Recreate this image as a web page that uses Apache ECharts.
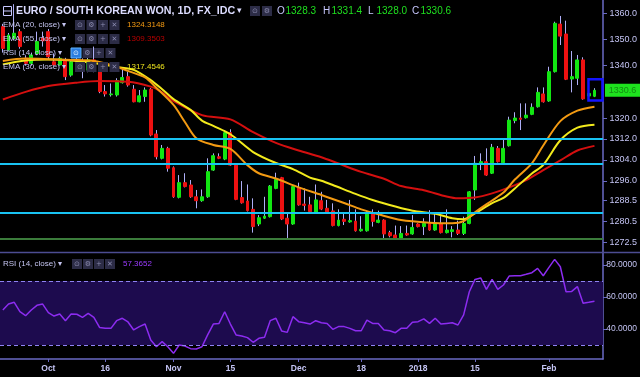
<!DOCTYPE html>
<html>
<head>
<meta charset="utf-8">
<script src="https://cdn.jsdelivr.net/npm/echarts@6/dist/echarts.min.js"></script>
<style>
  html, body { margin: 0; padding: 0; background: #000; }
  #main { width: 640px; height: 377px; }
</style>
</head>
<body>
<div id="main"></div>
<script>
// 日线 EURKRW，从 2017-09-20 开始的交易日
const opens = [1354.9,1346.0,1350.4,1353.0,1342.8,1340.9,1344.7,1350.5,1353.0,1341.5,1340.3,1342.2,1336.4,1342.2,1341.1,1338.3,1342.2,1339.0,1330.1,1328.9,1328.8,1333.5,1335.8,1331.0,1326.2,1328.2,1331.0,1313.9,1304.6,1308.4,1301.0,1289.7,1295.3,1294.4,1289.9,1288.4,1289.9,1300.1,1305.2,1304.3,1314.4,1302.0,1289.6,1288.3,1285.1,1279.5,1281.7,1282.3,1293.1,1297.2,1281.7,1279.5,1293.4,1287.1,1286.8,1283.8,1288.4,1285.5,1284.5,1278.9,1281.3,1280.3,1280.6,1276.9,1276.9,1283.6,1280.1,1281.0,1276.2,1275.3,1273.8,1275.9,1275.7,1279.5,1278.5,1279.7,1277.2,1279.5,1276.2,1276.6,1277.2,1275.9,1279.7,1292.5,1302.4,1303.3,1298.9,1308.4,1302.9,1309.4,1319.0,1320.0,1320.1,1321.4,1324.3,1329.2,1326.5,1337.7,1355.9,1352.1,1334.9,1335.2,1342.2,1328.4,1328.3]
const highs = [1356.0,1352.5,1363.5,1354.0,1344.0,1345.0,1353.0,1353.0,1354.0,1344.7,1343.5,1343.0,1342.5,1343.0,1342.8,1343.0,1347.3,1339.5,1332.6,1333.2,1335.2,1339.0,1337.7,1332.6,1330.7,1331.7,1331.5,1315.4,1309.7,1309.0,1301.5,1298.2,1298.9,1296.3,1292.5,1292.7,1304.6,1306.5,1306.5,1315.4,1315.7,1302.7,1295.9,1294.6,1289.3,1282.9,1289.9,1294.4,1299.1,1297.5,1283.9,1294.1,1295.3,1293.1,1289.9,1294.6,1291.8,1288.7,1287.4,1285.1,1283.6,1288.7,1285.1,1282.5,1284.6,1285.1,1284.6,1281.3,1276.9,1278.9,1278.7,1278.9,1282.9,1279.8,1281.7,1284.8,1283.6,1282.5,1285.1,1278.7,1280.8,1282.3,1292.1,1305.5,1306.5,1308.4,1310.1,1309.3,1311.6,1320.5,1322.2,1325.6,1325.6,1325.6,1331.7,1331.7,1339.6,1356.8,1359.0,1357.2,1345.6,1344.1,1343.2,1331.7,1331.4]
const lows = [1345.0,1345.5,1349.8,1346.5,1340.0,1340.0,1344.0,1347.3,1342.5,1340.0,1340.0,1334.5,1335.8,1340.5,1335.2,1337.5,1337.5,1329.5,1328.2,1328.2,1328.2,1333.2,1332.0,1326.0,1326.0,1326.2,1313.0,1304.2,1304.2,1299.5,1289.5,1289.3,1293.5,1289.5,1285.5,1288.0,1289.5,1299.8,1304.3,1303.9,1301.7,1288.6,1287.3,1284.3,1276.2,1278.7,1281.4,1282.0,1292.8,1281.0,1273.6,1279.2,1286.5,1284.6,1283.6,1283.6,1284.8,1283.6,1278.6,1278.6,1279.1,1280.0,1276.6,1276.6,1276.6,1278.5,1279.8,1273.8,1274.4,1273.5,1273.5,1275.0,1275.4,1278.2,1275.3,1276.9,1276.9,1275.9,1275.9,1274.4,1275.3,1275.3,1279.4,1288.7,1300.1,1297.9,1298.6,1303.0,1302.6,1309.1,1318.0,1315.4,1319.8,1321.1,1324.0,1325.9,1326.2,1337.4,1347.9,1334.5,1329.8,1332.6,1327.0,1328.2,1328.0]
const closes = [1346.6,1351.7,1352.4,1347.3,1340.9,1344.1,1349.2,1349.5,1343.4,1340.3,1342.8,1335.8,1341.5,1341.1,1338.3,1342.2,1338.3,1330.1,1329.2,1329.2,1334.3,1335.5,1332.6,1326.2,1328.5,1330.7,1313.5,1305.2,1308.4,1300.8,1289.9,1295.3,1293.8,1289.9,1288.4,1289.9,1299.5,1305.6,1304.6,1314.4,1302.0,1288.9,1287.6,1284.6,1278.5,1281.9,1282.5,1294.0,1296.6,1281.4,1279.5,1293.8,1286.8,1286.6,1284.2,1288.7,1285.2,1283.9,1278.9,1281.0,1280.5,1280.8,1276.9,1277.5,1283.6,1280.5,1281.0,1275.7,1275.0,1273.8,1275.9,1275.3,1278.2,1278.5,1279.7,1277.2,1279.7,1276.2,1277.2,1277.3,1275.9,1279.7,1291.8,1302.7,1303.3,1298.2,1308.8,1303.3,1308.4,1319.2,1320.0,1319.5,1321.1,1324.1,1329.8,1326.2,1337.7,1356.2,1351.3,1334.8,1335.8,1342.2,1327.3,1329.4,1330.6]

// EMA 线（从图上读取的点：[交易日序号, 值]）
const ema20 = [[0,1341.8],[4,1342.7],[8,1342.5],[12,1342.2],[16,1341.8],[19,1340.3],[22,1338.0],[25,1335.5],[27,1331.5],[30,1325.0],[32,1318.5],[34,1312.3],[37,1309.7],[40,1308.2],[43,1302.0],[45,1298.9],[48,1296.9],[52,1293.5],[56,1290.6],[60,1287.5],[63,1285.1],[66,1283.2],[70,1281.0],[75,1280.0],[79,1279.8],[81,1280.6],[83,1284.0],[86,1288.5],[88,1291.5],[90,1296.5],[93,1302.7],[95,1309.5],[98,1318.8],[101,1322.8],[104,1324.31]]
const ema30 = [[0,1340.5],[4,1342.0],[8,1342.4],[12,1342.0],[16,1341.0],[20,1339.5],[23,1338.4],[26,1334.5],[28,1331.0],[30,1327.2],[33,1323.1],[35,1319.0],[37,1317.0],[40,1313.8],[44,1307.0],[48,1302.8],[51,1300.5],[54,1297.2],[56,1296.0],[58,1294.4],[62,1291.0],[65,1288.7],[69,1286.2],[72,1284.6],[76,1283.4],[79,1281.7],[81,1281.3],[83,1283.6],[86,1287.5],[88,1289.5],[90,1293.1],[93,1298.8],[95,1302.1],[98,1311.5],[101,1316.3],[104,1317.45]]
const ema55 = [[0,1327.1],[4,1330.0],[8,1332.2],[13,1333.5],[17,1334.1],[22,1333.9],[26,1332.0],[28,1329.8],[30,1326.5],[35,1321.1],[40,1319.5],[44,1314.6],[48,1310.5],[52,1307.6],[56,1305.0],[59,1302.6],[63,1299.4],[67,1296.8],[70,1294.0],[74,1292.4],[78,1290.0],[80,1289.3],[83,1289.6],[86,1291.2],[89,1293.5],[92,1296.3],[95,1300.1],[98,1303.8],[101,1307.6],[104,1309.35]]

const rsi = [51.9,55.6,56.7,50.8,48.3,51.9,54.8,55.6,50.2,48.1,49.4,45.2,49.4,49.2,47.3,49.8,47.3,41.0,40.4,40.4,45.2,46.7,44.4,39.4,41.5,43.1,33.1,28.9,32.1,28.9,24.8,30.0,29.4,27.7,27.5,28.9,36.3,43.1,43.5,50.8,43.1,36.3,35.6,34.6,31.7,34.2,34.8,45.2,46.7,38.8,37.9,47.7,44.6,43.9,43.1,45.2,43.9,43.5,39.8,41.5,41.5,40.4,38.9,38.9,45.6,43.5,43.5,39.4,38.9,37.7,40.4,40.4,44.2,44.6,46.3,43.5,46.7,43.1,43.5,43.9,42.5,48.8,63.3,71.0,71.9,64.8,71.0,64.8,67.5,73.1,73.3,73.3,74.2,75.2,77.9,73.3,78.5,83.5,78.9,63.3,63.5,66.5,56.1,56.7,57.37]

// 图例里显示的指标最新值
const legendValues = {ema20: '1324.3148', ema55: '1309.3503', ema30: '1317.4546', rsi: '57.3652'}

// 水平线
const levels = [1312.1, 1302.4, 1283.8]
const supportLine = 1274.0

// 坐标轴刻度
const priceTicks = [1272.5, 1280.5, 1288.5, 1296, 1304, 1312, 1320, 1340, 1350, 1360]
const rsiTicks = [40, 60, 80]
const tickDates = ['2017-10-02', '2017-10-16', '2017-11-01', '2017-11-15', '2017-12-01', '2017-12-18', '2018-01-01', '2018-01-15', '2018-02-01']
const tickLabels = ['Oct', '16', 'Nov', '15', 'Dec', '18', '2018', '15', 'Feb']

// 交易日（周一到周五），最后留一个空位
const dates = []
const d = new Date(Date.UTC(2017, 8, 20))
while (dates.length < 106) {
    const wd = d.getUTCDay()
    if (wd !== 0 && wd !== 6) dates.push(d.toISOString().slice(0, 10))
    d.setUTCDate(d.getUTCDate() + 1)
}

const wickData = opens.map((o, i) => [o, closes[i], lows[i], highs[i]])
const bodyData = opens.map((o, i) => [o, closes[i], Math.min(o, closes[i]), Math.max(o, closes[i])])

const axisCol = '#6a6ac4'
const labelCol = '#c4c4f4'
const FONT = '"Liberation Sans", Arial, sans-serif'

const chart = echarts.init(document.getElementById('main'))

const option = {
    backgroundColor: '#000',
    animation: false,
    grid: [
        {left: -3, right: 36, top: 0, height: 252},
        {left: -3, right: 36, top: 253, height: 106}
    ],
    xAxis: [
        {
            type: 'category', gridIndex: 0, data: dates, boundaryGap: true,
            axisLine: {show: false}, axisTick: {show: false}, axisLabel: {show: false}, splitLine: {show: false}
        },
        {
            type: 'category', gridIndex: 1, data: dates, boundaryGap: true,
            axisLine: {show: true, lineStyle: {color: axisCol, width: 1.5}},
            axisTick: {
                show: true, alignWithLabel: true, length: 3,
                interval: (idx, val) => tickDates.includes(val),
                lineStyle: {color: axisCol}
            },
            axisLabel: {
                show: true, margin: 5, color: labelCol, fontSize: 8.5, fontWeight: 'bold', fontFamily: FONT,
                interval: (idx, val) => tickDates.includes(val),
                formatter: (val) => tickLabels[tickDates.indexOf(val)] || ''
            },
            splitLine: {show: false}
        }
    ],
    yAxis: [
        {
            type: 'value', gridIndex: 0, position: 'right', min: 1268.8, max: 1365.1,
            axisLine: {show: true, lineStyle: {color: axisCol, width: 1.5}},
            axisTick: {show: true, length: 4, customValues: priceTicks, lineStyle: {color: axisCol}},
            axisLabel: {
                customValues: priceTicks, color: labelCol, fontSize: 9, fontFamily: FONT,
                align: 'right', margin: 34, formatter: (v) => v.toFixed(1)
            },
            splitLine: {show: false}
        },
        {
            type: 'value', gridIndex: 1, position: 'right', min: 21.25, max: 87.5,
            axisLine: {show: true, lineStyle: {color: axisCol, width: 1.5}},
            axisTick: {show: true, length: 4, customValues: rsiTicks, lineStyle: {color: axisCol}},
            axisLabel: {
                customValues: rsiTicks, color: labelCol, fontSize: 8.5, fontFamily: FONT,
                align: 'right', margin: 34, formatter: (v) => v.toFixed(4)
            },
            splitLine: {show: false}
        }
    ],
    series: [
        {
            // 影线
            type: 'candlestick', xAxisIndex: 0, yAxisIndex: 0, data: wickData, barWidth: 1, z: 2,
            itemStyle: {color: '#aeaef6', color0: '#aeaef6', borderColor: '#aeaef6', borderColor0: '#aeaef6', borderWidth: 1},
            silent: true
        },
        {
            // 实体
            type: 'candlestick', xAxisIndex: 0, yAxisIndex: 0, data: bodyData, barWidth: 3.4, z: 3,
            itemStyle: {color: '#12e612', color0: '#ee1111', borderColor: '#12e612', borderColor0: '#ee1111', borderWidth: 1},
            silent: true,
            markLine: {
                silent: true, symbol: ['none', 'none'], label: {show: false},
                data: levels.map(v => ({yAxis: v, lineStyle: {color: '#19c3f2', width: 2, type: 'solid'}}))
                    .concat([{yAxis: supportLine, lineStyle: {color: '#3b7c3b', width: 2, type: 'solid'}}])
            }
        },
        {
            name: 'EMA 55', type: 'line', xAxisIndex: 0, yAxisIndex: 0, data: ema55, symbol: 'none', smooth: 0.3, z: 4,
            lineStyle: {color: '#d40f0f', width: 2}, silent: true
        },
        {
            name: 'EMA 30', type: 'line', xAxisIndex: 0, yAxisIndex: 0, data: ema30, symbol: 'none', smooth: 0.3, z: 4,
            lineStyle: {color: '#f2ea1c', width: 2}, silent: true
        },
        {
            name: 'EMA 20', type: 'line', xAxisIndex: 0, yAxisIndex: 0, data: ema20, symbol: 'none', smooth: 0.3, z: 4,
            lineStyle: {color: '#f39a12', width: 2}, silent: true
        },
        {
            name: 'RSI', type: 'line', xAxisIndex: 1, yAxisIndex: 1, data: rsi, symbol: 'none', z: 4,
            lineStyle: {color: '#8c2cf0', width: 1.5}, silent: true,
            markArea: {
                silent: true, itemStyle: {color: '#1d0b4e'},
                data: [[{yAxis: 30}, {yAxis: 70}]]
            },
            markLine: {
                silent: true, symbol: ['none', 'none'], label: {show: false},
                lineStyle: {color: '#8f82f2', width: 1, type: [4, 3]},
                data: [{yAxis: 70}, {yAxis: 30}]
            }
        }
    ]
}
chart.setOption(option)

// 图例、按钮等
function txt(x, y, s, fill, font) {
    return {
        type: 'text', x: x, y: y, z: 100,
        style: {text: s, fill: fill, font: font, align: 'left', verticalAlign: 'middle', textAlign: 'left', textVerticalAlign: 'middle'}
    }
}
function icon(x, y, sym, hl) {
    return {
        type: 'group', x: x, y: y, z: 100,
        children: [
            {type: 'rect', z: 100, shape: {x: 0, y: 0, width: 10, height: 10},
                style: {fill: hl ? '#2a7de0' : '#2c2c46', stroke: hl ? '#60b4ff' : null, lineWidth: 1}},
            {type: 'text', z: 101, x: 5, y: 5.5,
                style: {text: sym, fill: hl ? '#dcefff' : '#8a8aae', font: '7px "DejaVu Sans"',
                    align: 'center', verticalAlign: 'middle', textAlign: 'center', textVerticalAlign: 'middle'}}
        ]
    }
}
const syms = ['\u2299', '\u2699', '+', '\u2715']
function iconRow(xs, y, hlFirst) {
    return xs.map((x, k) => icon(x, y - 5, syms[k], hlFirst && k === 0))
}

const small = '8px ' + FONT
const g = []
g.push({type: 'rect', z: 100, shape: {x: 3.5, y: 6.5, width: 8, height: 9}, style: {fill: null, stroke: '#c8c8ff', lineWidth: 1}})
g.push({type: 'line', z: 100, shape: {x1: 3.5, y1: 11, x2: 11.5, y2: 11}, style: {stroke: '#c8c8ff', lineWidth: 1}})
g.push(txt(16, 11, 'EURO / SOUTH KOREAN WON, 1D, FX_IDC', '#dcdcff', 'bold 10.7px ' + FONT))
g.push(txt(237, 11, '\u25BE', '#dcdcff', '9px "DejaVu Sans"'))
g.push(icon(250, 6, '\u2299', false), icon(262, 6, '\u2699', false))
const last = closes.length - 1
const ohlcLab = [['O', 277, opens[last]], ['H', 323, highs[last]], ['L', 368, lows[last]], ['C', 412, closes[last]]]
ohlcLab.forEach(([k, x, v]) => {
    g.push(txt(x, 11, k, '#c8c8ff', '10px ' + FONT))
    g.push(txt(x + 8.5, 11, v.toFixed(1), '#1fe01f', '10px ' + FONT))
})

const rows = [
    {y: 25, name: 'EMA (20, close)', val: legendValues.ema20, col: '#f39a12', icons: [75, 86.5, 98, 109.5]},
    {y: 39, name: 'EMA (55, close)', val: legendValues.ema55, col: '#b80000', icons: [75, 86.5, 98, 109.5]},
    {y: 53, name: 'RSI (14, close)', val: '', col: '', icons: [71, 82.5, 94, 105.5], hl: true},
    {y: 67, name: 'EMA (30, close)', val: legendValues.ema30, col: '#eee41e', icons: [75, 86.5, 98, 109.5]}
]
rows.forEach(r => {
    g.push(txt(3, r.y, r.name + ' \u25BE', '#c4c4f0', small))
    g.push(...iconRow(r.icons, r.y, r.hl))
    if (r.val) g.push(txt(127, r.y, r.val, r.col, small))
})
g.push(txt(3, 264, 'RSI (14, close) \u25BE', '#c4c4f0', small))
g.push(...iconRow([72, 83, 94, 105], 264, false))
g.push(txt(123, 264, legendValues.rsi, '#9b3cff', small))

// 分隔线
g.push({type: 'line', z: 90, shape: {x1: 0, y1: 252.5, x2: 640, y2: 252.5}, style: {stroke: '#4c4c92', lineWidth: 1.5}})

// 最新价标签与选中框
const py = chart.convertToPixel({yAxisIndex: 0}, closes[last])
g.push({type: 'rect', z: 100, shape: {x: 605, y: py - 6.5, width: 35, height: 13}, style: {fill: '#1ee21e'}})
g.push({type: 'text', z: 101, x: 622.5, y: py, style: {text: closes[last].toFixed(1), fill: '#138a13', font: '9px ' + FONT,
    align: 'center', verticalAlign: 'middle', textAlign: 'center', textVerticalAlign: 'middle'}})
const bx = chart.convertToPixel({xAxisIndex: 0}, last)
const bTop = chart.convertToPixel({yAxisIndex: 0}, highs[last]) - 9
const bBot = chart.convertToPixel({yAxisIndex: 0}, lows[last]) + 3.5
g.push({type: 'rect', z: 100, shape: {x: bx - 6, y: bTop, width: 14, height: bBot - bTop}, style: {fill: null, stroke: '#1414ff', lineWidth: 2.5}})

chart.setOption({graphic: g})
window.addEventListener('resize', () => chart.resize())
</script>
</body>
</html>
